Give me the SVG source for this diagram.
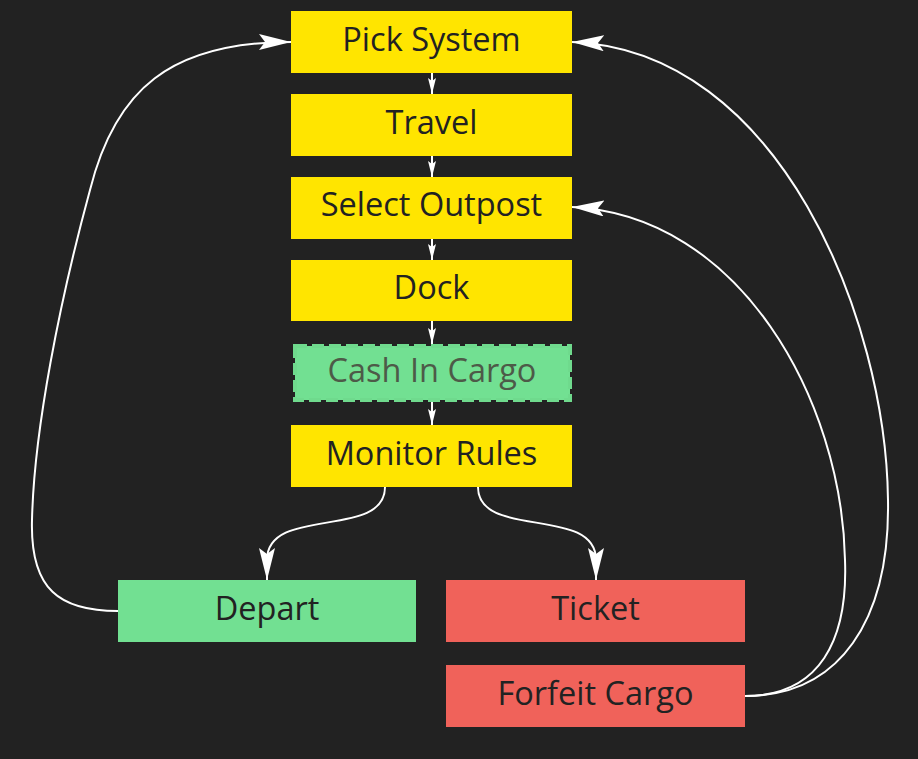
<svg xmlns="http://www.w3.org/2000/svg" width="918" height="759" viewBox="0 0 918 759">
<style>
.t{font-family:"Open Sans","Noto Sans",sans-serif;font-size:32.5px;text-anchor:middle;fill:#222222}
.y{fill:#ffe500}
.g{fill:#72e092}
.r{fill:#f0625a}
.c{fill:none;stroke:#ffffff;stroke-width:2}
</style>
<defs>
<marker id="big" viewBox="0 0 32 16" refX="32" refY="8" markerWidth="32" markerHeight="16" markerUnits="userSpaceOnUse" orient="auto">
<path d="M0,0 L32,8 L0,16 L6,8 Z" fill="#ffffff"/>
</marker>
<marker id="sm" viewBox="0 0 16 8" refX="16" refY="4" markerWidth="16" markerHeight="8" markerUnits="userSpaceOnUse" orient="auto">
<path d="M0,0 L16,4 L0,8 L3,4 Z" fill="#ffffff"/>
</marker>
</defs>
<rect width="918" height="759" fill="#222222"/>
<g id="connectors">
<path class="c" d="M432,73 L432,94" marker-end="url(#sm)"/>
<path class="c" d="M432,156 L432,177" marker-end="url(#sm)"/>
<path class="c" d="M432,239 L432,260" marker-end="url(#sm)"/>
<path class="c" d="M432,321 L432,344" marker-end="url(#sm)"/>
<path class="c" d="M432,402 L432,425" marker-end="url(#sm)"/>
<path class="c" d="M385,487 C385,540 267,505 267,560 L267,580" marker-end="url(#big)"/>
<path class="c" d="M478,487 C478,540 596,505 596,560 L596,580" marker-end="url(#big)"/>
<path class="c" d="M118,611 C60,611 30,590 32,520 C34,430 60,300 90,190 C115,90 170,42 291,42" marker-end="url(#big)"/>
<path class="c" d="M745,696 C840,696 890,620 888,500 C886,320 780,50 572,42" marker-end="url(#big)"/>
<path class="c" d="M745,696 C820,696 848,640 845,560 C842,400 740,215 572,207" marker-end="url(#big)"/>
</g>
<g id="pick-system"><rect class="y" x="291" y="11" width="281" height="62"/><text class="t" x="431.5" y="51">Pick System</text></g>
<g id="travel"><rect class="y" x="291" y="94" width="281" height="62"/><text class="t" x="431.5" y="134">Travel</text></g>
<g id="select-outpost"><rect class="y" x="291" y="177" width="281" height="62"/><text class="t" x="431.5" y="216">Select Outpost</text></g>
<g id="dock"><rect class="y" x="291" y="260" width="281" height="61"/><text class="t" x="431.5" y="299">Dock</text></g>
<g id="cash-in-cargo"><rect x="295" y="346" width="275" height="54" fill="#72e092" stroke="#6fda8d" stroke-width="4" stroke-dasharray="12 5"/><text class="t" x="432" y="382" style="fill:#4d5a48">Cash In Cargo</text></g>
<g id="monitor-rules"><rect class="y" x="291" y="425" width="281" height="62"/><text class="t" x="431.5" y="465">Monitor Rules</text></g>
<g id="depart"><rect class="g" x="118" y="580" width="298" height="62"/><text class="t" x="267" y="620">Depart</text></g>
<g id="ticket"><rect class="r" x="446" y="580" width="299" height="62"/><text class="t" x="595.5" y="620">Ticket</text></g>
<g id="forfeit-cargo"><rect class="r" x="446" y="665" width="299" height="62"/><text class="t" x="595.5" y="705">Forfeit Cargo</text></g>
</svg>
